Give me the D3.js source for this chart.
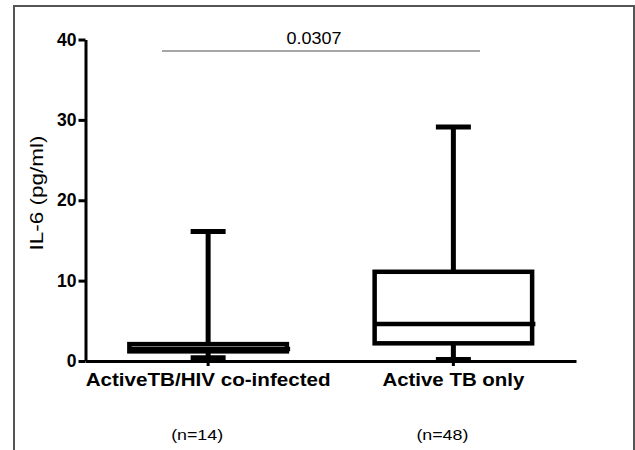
<!DOCTYPE html>
<html>
<head>
<meta charset="utf-8">
<script src="https://cdn.jsdelivr.net/npm/d3@7"></script>
<style>
  html, body { margin: 0; padding: 0; background: #fff; }
  svg { display: block; font-family: "Liberation Sans", Arial, sans-serif; }
</style>
</head>
<body>
<svg id="chart" width="635" height="450"></svg>
<script>
// ---- data ----
const categories = ["ActiveTB/HIV co-infected", "Active TB only"];
const nLabels = ["(n=14)", "(n=48)"];
const whiskerLow = [0.4, 0.2];
const q1 = [1.2, 2.2];
const median = [1.5, 4.6];
const q3 = [2.1, 11.1];
const whiskerHigh = [16.1, 29.1];
const yTicks = [0, 10, 20, 30, 40];
const yLabel = "IL-6 (pg/ml)";
const pValue = "0.0307";

const groups = categories.map((c, i) => ({
  cat: c, n: nLabels[i], lo: whiskerLow[i], q1: q1[i], med: median[i], q3: q3[i], hi: whiskerHigh[i]
}));

const svg = d3.select("#chart");
const FONT = "Liberation Sans, Arial, sans-serif";

// frame
svg.append("rect").attr("x", 14).attr("y", 6).attr("width", 620).attr("height", 460)
  .attr("fill", "none").attr("stroke", "#555").attr("stroke-width", 2);

const y = d3.scaleLinear().domain([0, 40]).range([361, 39.5]);
const x = d3.scaleBand().domain(categories).range([85.5, 576]).padding(0);
const cx = d => x(d) + x.bandwidth() / 2;
const boxW = 162, capW = 35;

// y axis
const yAxis = svg.append("g").attr("transform", "translate(85.5,0)")
  .call(d3.axisLeft(y).tickValues(yTicks).tickSize(7).tickSizeOuter(0).tickPadding(2));
yAxis.select(".domain").attr("stroke", "#000").attr("stroke-width", 3);
yAxis.selectAll(".tick line").attr("stroke", "#000").attr("stroke-width", 3);
yAxis.selectAll(".tick text").attr("font-size", 17.5).attr("font-weight", "bold")
  .attr("font-family", FONT).attr("fill", "#000");

// x axis
const xLabelWidths = [245, 142];
const xAxis = svg.append("g").attr("transform", "translate(0,361)")
  .call(d3.axisBottom(x).tickSize(5).tickSizeOuter(0).tickPadding(7.5));
xAxis.select(".domain").attr("stroke", "#000").attr("stroke-width", 3);
xAxis.selectAll(".tick line").attr("stroke", "#000").attr("stroke-width", 3);
xAxis.selectAll(".tick text").attr("font-size", 17.5).attr("font-weight", "bold")
  .attr("font-family", FONT).attr("fill", "#000")
  .attr("textLength", (d, i) => xLabelWidths[i]).attr("lengthAdjust", "spacingAndGlyphs");

// boxes
const g = svg.append("g").selectAll("g").data(groups).join("g");
// whiskers
g.append("line").attr("x1", d => cx(d.cat)).attr("x2", d => cx(d.cat))
  .attr("y1", d => y(d.hi)).attr("y2", d => y(d.lo))
  .attr("stroke", "#000").attr("stroke-width", 5);
g.append("line").attr("x1", d => cx(d.cat) - capW / 2).attr("x2", d => cx(d.cat) + capW / 2)
  .attr("y1", d => y(d.hi)).attr("y2", d => y(d.hi))
  .attr("stroke", "#000").attr("stroke-width", 5);
g.append("line").attr("x1", d => cx(d.cat) - capW / 2).attr("x2", d => cx(d.cat) + capW / 2)
  .attr("y1", d => y(d.lo)).attr("y2", d => y(d.lo))
  .attr("stroke", "#000").attr("stroke-width", 5);
// box
g.append("rect").attr("x", d => cx(d.cat) - boxW / 2 + 2.25).attr("width", boxW - 4.5)
  .attr("y", d => y(d.q3)).attr("height", d => y(d.q1) - y(d.q3))
  .attr("fill", "#fff").attr("stroke", "#000").attr("stroke-width", 4.5);
// median
g.append("line").attr("x1", d => cx(d.cat) - boxW / 2 + 2.25).attr("x2", d => cx(d.cat) + boxW / 2 + 1)
  .attr("y1", d => y(d.med)).attr("y2", d => y(d.med))
  .attr("stroke", "#000").attr("stroke-width", 4.5);

// n labels
g.append("text").attr("x", d => cx(d.cat) - 11).attr("y", 440)
  .attr("text-anchor", "middle").attr("font-size", 15).attr("fill", "#000")
  .attr("textLength", 52).attr("lengthAdjust", "spacingAndGlyphs")
  .text(d => d.n);

// y label
svg.append("text").attr("transform", "translate(43,193) rotate(-90)")
  .attr("text-anchor", "middle").attr("font-size", 18).attr("fill", "#000")
  .attr("textLength", 115).attr("lengthAdjust", "spacingAndGlyphs")
  .text(yLabel);

// significance bar
svg.append("line").attr("x1", 162).attr("x2", 480).attr("y1", 51).attr("y2", 51)
  .attr("stroke", "#888").attr("stroke-width", 1.5);
svg.append("text").attr("x", 314).attr("y", 43.5).attr("text-anchor", "middle")
  .attr("font-size", 17).attr("fill", "#000")
  .attr("textLength", 55).attr("lengthAdjust", "spacingAndGlyphs")
  .text(pValue);
</script>
</body>
</html>
